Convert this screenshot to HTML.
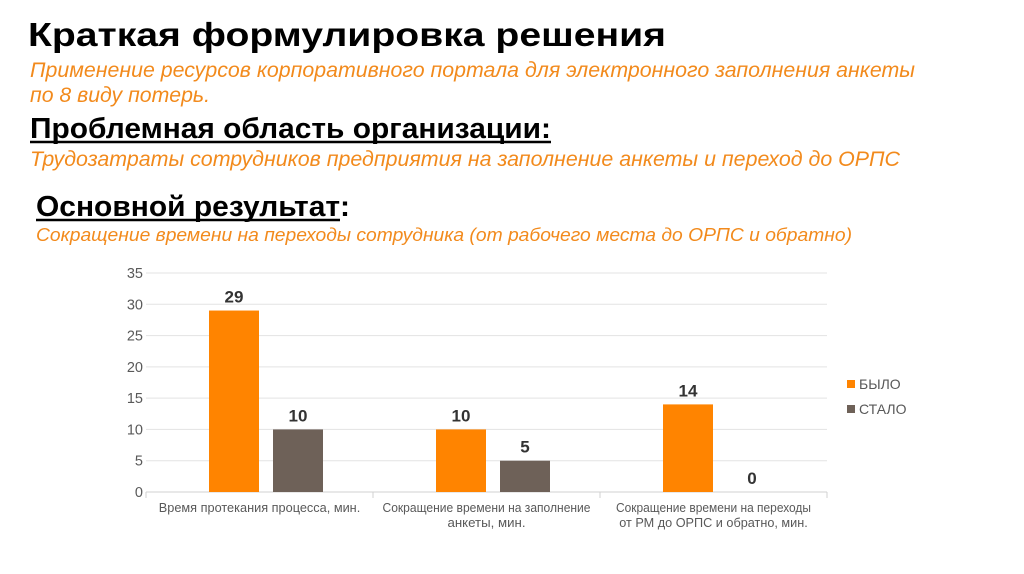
<!DOCTYPE html>
<html><head><meta charset="utf-8"><style>
html,body{margin:0;padding:0;background:#fff;}
svg{display:block;font-family:"Liberation Sans",sans-serif;}
</style></head><body>
<svg id="s" width="1024" height="574" viewBox="0 0 1024 574">
<text x="28" y="46" font-size="33" font-weight="bold" fill="#000" textLength="638" lengthAdjust="spacingAndGlyphs">Краткая формулировка решения</text>
<text x="30" y="77" font-size="21" font-style="italic" fill="#f28a1c" textLength="885" lengthAdjust="spacingAndGlyphs">Применение ресурсов корпоративного портала для электронного заполнения анкеты</text>
<text x="30" y="102" font-size="21" font-style="italic" fill="#f28a1c" textLength="180" lengthAdjust="spacingAndGlyphs">по 8 виду потерь.</text>
<text x="30" y="138" font-size="29" font-weight="bold" fill="#000" textLength="521" lengthAdjust="spacingAndGlyphs">Проблемная область организации:</text>
<line x1="30" y1="142" x2="551" y2="142" stroke="#000" stroke-width="2.5"/>
<text x="30" y="166" font-size="21" font-style="italic" fill="#f28a1c" textLength="870" lengthAdjust="spacingAndGlyphs">Трудозатраты сотрудников предприятия на заполнение анкеты и переход до ОРПС</text>
<text x="36" y="216" font-size="29" font-weight="bold" fill="#000" textLength="314" lengthAdjust="spacingAndGlyphs">Основной результат:</text>
<line x1="36" y1="220" x2="340" y2="220" stroke="#000" stroke-width="2.5"/>
<text x="36" y="241" font-size="18.5" font-style="italic" fill="#f28a1c" textLength="816" lengthAdjust="spacingAndGlyphs">Сокращение времени на переходы сотрудника (от рабочего места до ОРПС и обратно)</text>
<g id="chart"></g>
</svg>
<script>
const categories=[["Время протекания процесса, мин."],["Сокращение времени на заполнение","анкеты, мин."],["Сокращение времени на переходы","от РМ до ОРПС и обратно, мин."]];
const before=[29,10,14];
const after=[10,5,0];
const yTicks=[0,5,10,15,20,25,30,35];
const seriesNames=["БЫЛО","СТАЛО"];
const NS="http://www.w3.org/2000/svg";
const g=document.getElementById('chart');
const x0=146,x1=827,y0=492,y1=273,yMax=35;
const catW=(x1-x0)/categories.length;
function Y(v){return y0-(v/yMax)*(y0-y1);}
function el(t,a,txt){const e=document.createElementNS(NS,t);for(const k in a)e.setAttribute(k,a[k]);if(txt!==undefined)e.textContent=txt;g.appendChild(e);return e;}
yTicks.forEach(v=>{
 const l=el('line',{x1:x0,x2:x1,y1:Y(v),y2:Y(v),stroke:v===0?'#d0d0d0':'#e3e3e3','stroke-width':1});
 
 
 const t=el('text',{x:x0-3,y:Y(v)+5,'font-size':14.5,fill:'#595959','text-anchor':'end'},String(v));
 
 
});
for(let i=0;i<=categories.length;i++){
 const tk=el('line',{x1:x0+i*catW,x2:x0+i*catW,y1:y0,y2:y0+6,stroke:'#d0d0d0'});
 
 
}
const colors=['#ff8400','#6e6158'];
categories.forEach((c,i)=>{
 const cs=x0+i*catW;
 [before[i],after[i]].forEach((v,j)=>{
  const bx=cs+63+j*64;
  const r=el('rect',{x:bx,y:Y(v),width:50,height:y0-Y(v),fill:colors[j]});
  
  
  const t=el('text',{x:bx+25,y:Y(v)-8,'font-size':17,'font-weight':'bold',fill:'#333','text-anchor':'middle'},String(v));
  
  
 });
 c.forEach((ln,k)=>{
  const t=el('text',{x:cs+catW/2,y:512+k*15,'font-size':12.5,fill:'#595959','text-anchor':'middle',textLength:ln.length*6.5,lengthAdjust:'spacingAndGlyphs'},ln);
  
  
 });
});
seriesNames.forEach((n,j)=>{
 const r=el('rect',{x:847,y:380+j*25,width:8,height:8,fill:colors[j]});
 
 
 const t=el('text',{x:859,y:389+j*25,'font-size':14,fill:'#595959'},n);
 
 
});
</script>
</body></html>
